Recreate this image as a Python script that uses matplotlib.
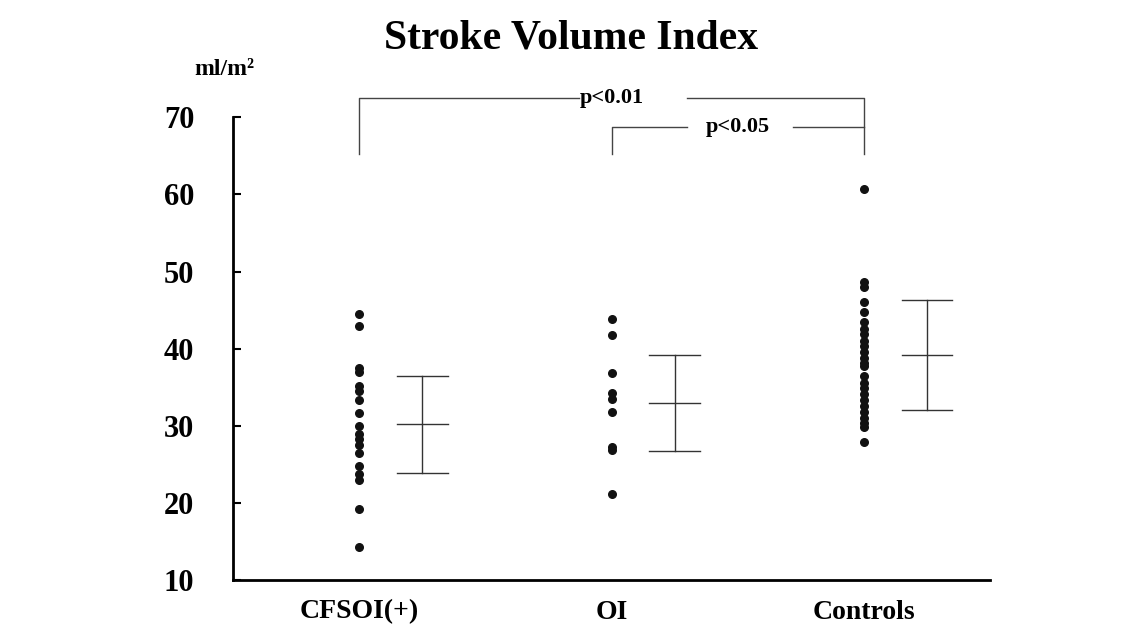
import matplotlib.pyplot as plt
import numpy as np

plt.rcParams['font.family'] = ['Liberation Serif', 'DejaVu Serif']

groups = ["CFSOI(+)", "OI", "Controls"]
cfsoi = [44.5, 43.0, 37.5, 37.0, 35.2, 34.5, 33.3, 31.7, 30.0, 29.0, 28.3, 27.5,
         26.5, 24.8, 23.7, 23.0, 19.2, 14.3]
oi = [43.8, 41.8, 36.8, 34.2, 33.5, 31.8, 27.3, 26.9, 21.1]
controls = [60.7, 48.6, 48.0, 46.1, 44.7, 43.4, 42.6, 41.9, 41.0, 40.3, 39.6, 38.8,
            38.2, 37.7, 36.4, 35.6, 34.9, 34.1, 33.3, 32.6, 31.8, 31.0, 30.4, 29.8, 27.9]
means = [30.2, 33.0, 39.2]
sds = [6.3, 6.2, 7.1]

fig = plt.figure(figsize=(11.43, 6.34), dpi=100)
ax = fig.add_axes([0.204, 0.085, 0.662, 0.73])

for i, vals in enumerate([cfsoi, oi, controls]):
    x = np.full(len(vals), i + 1.0)
    ax.scatter(x, vals, s=30, color='#111111', zorder=3)
    c = i + 1.25
    m, s = means[i], sds[i]
    ax.plot([c, c], [m - s, m + s], color='#333333', lw=1)
    ax.plot([c - 0.1, c + 0.1], [m + s, m + s], color='#333333', lw=1)
    ax.plot([c - 0.1, c + 0.1], [m - s, m - s], color='#333333', lw=1)
    ax.plot([c - 0.1, c + 0.1], [m, m], color='#333333', lw=1)

ax.set_xlim(0.5, 3.5)
ax.set_ylim(10, 70)
ax.set_yticks(range(10, 71, 10))
ax.set_xticks([1, 2, 3])
ax.set_xticklabels(groups)
for lab in ax.get_xticklabels():
    lab.set_fontweight('bold')
    lab.set_fontsize(20)
for lab in ax.get_yticklabels():
    lab.set_fontweight('bold')
    lab.set_fontsize(22)
ax.tick_params(axis='y', direction='in', length=6, width=1.5, pad=28)
ax.tick_params(axis='x', length=0, pad=14)
ax.spines['top'].set_visible(False)
ax.spines['right'].set_visible(False)
ax.spines['left'].set_linewidth(2)
ax.spines['bottom'].set_linewidth(2)

# significance brackets
lc = '#444444'
ax.plot([1, 1, 1.87], [65.2, 72.5, 72.5], color=lc, lw=1, clip_on=False)
ax.plot([2.3, 3, 3], [72.5, 72.5, 65.2], color=lc, lw=1, clip_on=False)
ax.text(2.0, 72.5, "p<0.01", ha='center', va='center', fontsize=16, fontweight='bold')
ax.plot([2, 2, 2.3], [65.2, 68.8, 68.8], color=lc, lw=1, clip_on=False)
ax.plot([2.72, 3], [68.8, 68.8], color=lc, lw=1, clip_on=False)
ax.text(2.5, 68.8, "p<0.05", ha='center', va='center', fontsize=16, fontweight='bold')

fig.text(0.5, 0.94, "Stroke Volume Index", ha='center', va='center',
         fontsize=30, fontweight='bold')
fig.text(0.196, 0.89, "ml/m²", ha='center', va='center',
         fontsize=17, fontweight='bold')

fig.savefig("out.png", dpi=100)
